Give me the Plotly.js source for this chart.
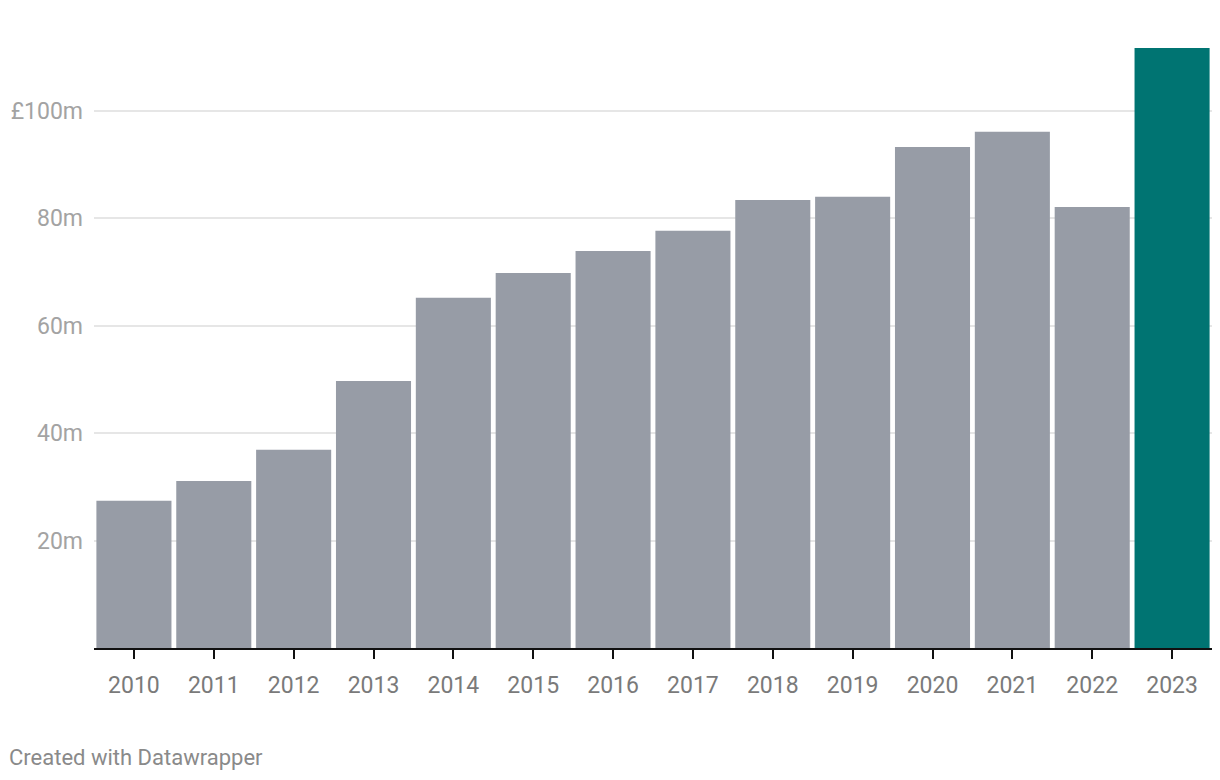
<!DOCTYPE html>
<html>
<head>
<meta charset="utf-8">
<script src="https://cdn.plot.ly/plotly-3.0.1.min.js"></script>
<style>html,body{margin:0;padding:0;background:#fff;}#chart{width:1220px;height:780px;}</style>
</head>
<body>
<div id="chart"></div>
<script>
const years = ["2010","2011","2012","2013","2014","2015","2016","2017","2018","2019","2020","2021","2022","2023"];
const values = [27.4, 31.1, 36.9, 49.7, 65.2, 69.8, 73.9, 77.7, 83.4, 84.0, 93.3, 96.1, 82.1, 111.7];
const yTickVals = [20, 40, 60, 80, 100];
const yTickText = ["20m", "40m", "60m", "80m", "£100m"];
const footer = "Created with Datawrapper";

const colors = years.map(y => y === "2023" ? "#007472" : "#979ca6");

const trace = {
  type: "bar",
  x: years,
  y: values,
  marker: {color: colors, line: {width: 0}},
  hoverinfo: "x+y"
};

const layout = {
  width: 1220, height: 780,
  margin: {l: 94, r: 8, t: 40, b: 132},
  paper_bgcolor: "#fff", plot_bgcolor: "#fff",
  bargap: 0.06,
  showlegend: false,
  font: {family: "Roboto, sans-serif"},
  xaxis: {
    type: "category",
    showgrid: false,
    showline: true, linecolor: "#111", linewidth: 2,
    ticks: "outside", ticklen: 9, tickwidth: 2, tickcolor: "#111",
    tickfont: {size: 23, color: "#7a7a7a"},
    ticklabelstandoff: 6,
    zeroline: false
  },
  yaxis: {
    range: [0, 113.2],
    tickvals: yTickVals, ticktext: yTickText,
    showgrid: true, gridcolor: "#e6e6e6", gridwidth: 2,
    zeroline: false, showline: false, ticks: "",
    tickfont: {size: 23, color: "#a3a3a3"},
    ticklabelstandoff: 10
  },
  annotations: [{
    text: footer, xref: "paper", yref: "paper",
    x: (7 - 94) / 1118, y: -(757 - 648) / 608, xanchor: "left", yanchor: "middle",
    showarrow: false, font: {size: 22, color: "#8a8a8a", family: "Roboto, sans-serif"}
  }]
};

Plotly.newPlot("chart", [trace], layout, {displayModeBar: false, staticPlot: true});
</script>
</body>
</html>
